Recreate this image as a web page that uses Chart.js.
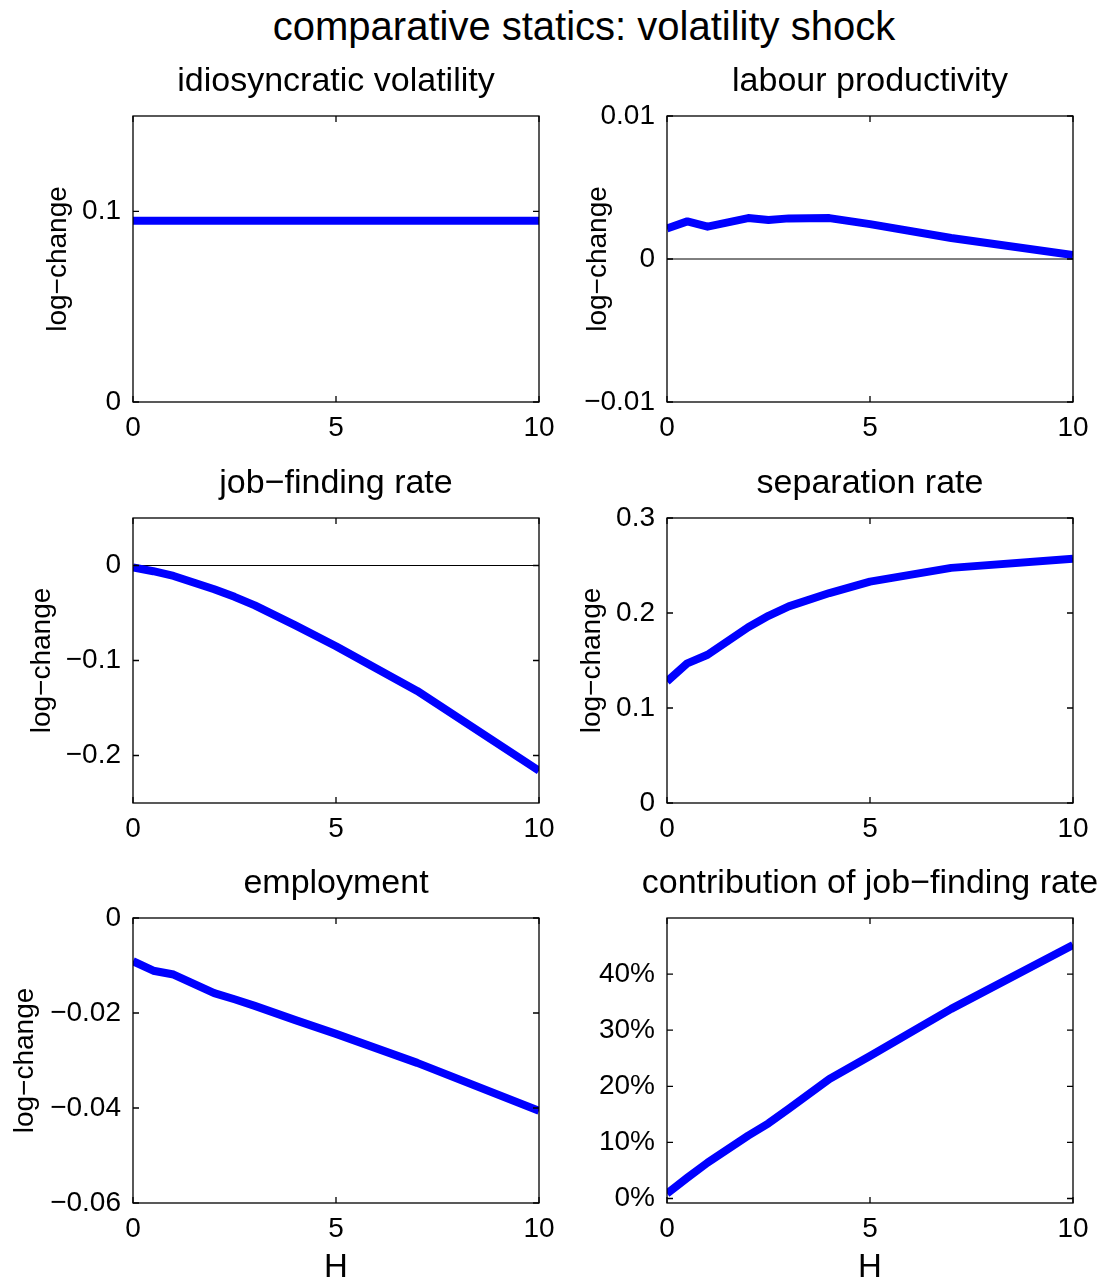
<!DOCTYPE html>
<html>
<head>
<meta charset="utf-8">
<script src="https://cdn.jsdelivr.net/npm/chart.js@4.4.0/dist/chart.umd.min.js"></script>
<style>
    html, body { margin: 0; padding: 0; background: #fff; width: 1105px; height: 1281px; overflow: hidden; }
    .painel { position: absolute; }
    #titulo {
        position: absolute; left: 84px; width: 1000px; top: 6px;
        text-align: center; font: 40px "Liberation Sans", Arial, sans-serif; line-height: 40px; color: #000;
    }
</style>
</head>
<body>
<div id="titulo">comparative statics: volatility shock</div>

<script>
// ================= DADOS =================
const horizonte = [0, 0.5, 1, 2, 2.5, 3, 4, 5, 7, 10];

const volIdio      = [0.095, 0.095, 0.095, 0.095, 0.095, 0.095, 0.095, 0.095, 0.095, 0.095];
const produtividade = [0.00214, 0.00263, 0.00226, 0.00286, 0.00272, 0.00284, 0.00286, 0.00244, 0.00147, 0.00028];
const taxaEncontro = [-0.002, -0.006, -0.011, -0.025, -0.033, -0.042, -0.063, -0.085, -0.132, -0.216];
const taxaSeparacao = [0.128, 0.147, 0.156, 0.185, 0.197, 0.207, 0.221, 0.233, 0.2475, 0.257];
const emprego      = [-0.0091, -0.0111, -0.0119, -0.0158, -0.0171, -0.0185, -0.0215, -0.0244, -0.0305, -0.0406];
const contribuicao = [0.009, 0.037, 0.064, 0.112, 0.134, 0.160, 0.213, 0.254, 0.338, 0.452];

const ticksX = [0, 5, 10];
const rotulosX = ["0", "5", "10"];

const ticksIdio = [0, 0.1];
const rotulosIdio = ["0", "0.1"];
const ticksProd = [-0.01, 0, 0.01];
const rotulosProd = ["\u22120.01", "0", "0.01"];
const ticksEncontro = [-0.2, -0.1, 0];
const rotulosEncontro = ["\u22120.2", "\u22120.1", "0"];
const ticksSeparacao = [0, 0.1, 0.2, 0.3];
const rotulosSeparacao = ["0", "0.1", "0.2", "0.3"];
const ticksEmprego = [-0.06, -0.04, -0.02, 0];
const rotulosEmprego = ["\u22120.06", "\u22120.04", "\u22120.02", "0"];
const ticksContrib = [0, 0.1, 0.2, 0.3, 0.4];
const rotulosContrib = ["0%", "10%", "20%", "30%", "40%"];

const linhaZeroX = [0, 10];
const linhaZeroY = [0, 0];

// ================= LAYOUT =================
const FONTE = '"Liberation Sans", Arial, sans-serif';
const colEsq = [133, 667];
const colDir = [539, 1073];
const linTopo = [116, 518, 918];
const linBase = [402, 803, 1203];
const MARGEM_ESQ = 130, MARGEM_DIR = 30, MARGEM_TOPO = 60, MARGEM_BASE = 86;

const paineis = [
    { col: 0, lin: 0, titulo: "idiosyncratic volatility", dados: volIdio, min: 0, max: 0.15,
      ticks: ticksIdio, rotulos: rotulosIdio, eixoY: "log\u2212change", padY: 38, zero: false },
    { col: 1, lin: 0, titulo: "labour productivity", dados: produtividade, min: -0.01, max: 0.01,
      ticks: ticksProd, rotulos: rotulosProd, eixoY: "log\u2212change", padY: 44, zero: true },
    { col: 0, lin: 1, titulo: "job\u2212finding rate", dados: taxaEncontro, min: -0.25, max: 0.05,
      ticks: ticksEncontro, rotulos: rotulosEncontro, eixoY: "log\u2212change", padY: 22, zero: true },
    { col: 1, lin: 1, titulo: "separation rate", dados: taxaSeparacao, min: 0, max: 0.3,
      ticks: ticksSeparacao, rotulos: rotulosSeparacao, eixoY: "log\u2212change", padY: 38, zero: false },
    { col: 0, lin: 2, titulo: "employment", dados: emprego, min: -0.06, max: 0,
      ticks: ticksEmprego, rotulos: rotulosEmprego, eixoY: "log\u2212change", padY: 5, zero: false },
    { col: 1, lin: 2, titulo: "contribution of job\u2212finding rate", dados: contribuicao, min: -0.008, max: 0.5,
      ticks: ticksContrib, rotulos: rotulosContrib, eixoY: "", padY: 0, zero: false }
];

// moldura com ticks para dentro e titulo do painel
const molduraPlugin = {
    id: "moldura",
    afterDraw(chart, args, opts) {
        const { ctx, chartArea: a, scales: { x, y } } = chart;
        ctx.save();
        ctx.strokeStyle = "#000";
        ctx.lineWidth = 1.3;
        ctx.strokeRect(a.left, a.top, a.right - a.left, a.bottom - a.top);
        const len = 6;
        ctx.beginPath();
        x.ticks.forEach(t => {
            const px = x.getPixelForValue(t.value);
            ctx.moveTo(px, a.bottom); ctx.lineTo(px, a.bottom - len);
            ctx.moveTo(px, a.top); ctx.lineTo(px, a.top + len);
        });
        y.ticks.forEach(t => {
            const py = y.getPixelForValue(t.value);
            ctx.moveTo(a.left, py); ctx.lineTo(a.left + len, py);
            ctx.moveTo(a.right, py); ctx.lineTo(a.right - len, py);
        });
        ctx.stroke();
        ctx.fillStyle = "#000";
        ctx.font = "34px " + FONTE;
        ctx.textAlign = "center";
        ctx.textBaseline = "alphabetic";
        ctx.fillText(opts.texto, (a.left + a.right) / 2, a.top - 25);
        ctx.restore();
    }
};

function criarPainel(p) {
    const largura = colDir[p.col] - colEsq[p.col] + MARGEM_ESQ + MARGEM_DIR;
    const altura = linBase[p.lin] - linTopo[p.lin] + MARGEM_TOPO + MARGEM_BASE;
    const div = document.createElement("div");
    div.className = "painel";
    div.style.left = (colEsq[p.col] - MARGEM_ESQ) + "px";
    div.style.top = (linTopo[p.lin] - MARGEM_TOPO) + "px";
    div.style.width = largura + "px";
    div.style.height = altura + "px";
    const canvas = document.createElement("canvas");
    div.appendChild(canvas);
    document.body.appendChild(div);

    const datasets = [{
        data: horizonte.map((h, i) => ({ x: h, y: p.dados[i] })),
        borderColor: "#0000ff",
        borderWidth: 8,
        borderJoinStyle: "round",
        pointRadius: 0,
        tension: 0,
        fill: false,
        clip: 0
    }];
    if (p.zero) {
        datasets.push({
            data: linhaZeroX.map((h, i) => ({ x: h, y: linhaZeroY[i] })),
            borderColor: "#000",
            borderWidth: 1,
            pointRadius: 0,
            fill: false,
            clip: 0
        });
    }

    new Chart(canvas, {
        type: "line",
        data: { datasets: datasets },
        plugins: [molduraPlugin],
        options: {
            responsive: true,
            maintainAspectRatio: false,
            animation: false,
            events: [],
            layout: { padding: { top: MARGEM_TOPO, right: MARGEM_DIR, left: 0, bottom: 0 } },
            plugins: {
                legend: { display: false },
                tooltip: { enabled: false },
                moldura: { texto: p.titulo }
            },
            scales: {
                x: {
                    type: "linear",
                    position: "bottom",
                    min: 0,
                    max: 10,
                    grid: { display: false },
                    border: { display: false },
                    afterBuildTicks: s => { s.ticks = ticksX.map(v => ({ value: v })); },
                    afterFit: s => { s.height = MARGEM_BASE; },
                    ticks: {
                        color: "#000",
                        font: { family: FONTE, size: 28 },
                        padding: 1,
                        maxRotation: 0,
                        autoSkip: false,
                        callback: (v, i) => rotulosX[i]
                    },
                    title: {
                        display: p.lin === 2,
                        text: "H",
                        color: "#000",
                        font: { family: FONTE, size: 33 },
                        padding: { top: 0, bottom: 1.5 }
                    }
                },
                y: {
                    type: "linear",
                    min: p.min,
                    max: p.max,
                    grid: { display: false },
                    border: { display: false },
                    afterBuildTicks: s => { s.ticks = p.ticks.map(v => ({ value: v })); },
                    afterFit: s => { s.width = MARGEM_ESQ; },
                    ticks: {
                        color: "#000",
                        font: { family: FONTE, size: 28 },
                        padding: 4,
                        autoSkip: false,
                        callback: (v, i) => p.rotulos[i]
                    },
                    title: {
                        display: p.eixoY !== "",
                        text: p.eixoY,
                        color: "#000",
                        font: { family: FONTE, size: 28 },
                        padding: { top: p.padY, bottom: 0 }
                    }
                }
            }
        }
    });
}

paineis.forEach(criarPainel);
</script>
</body>
</html>
